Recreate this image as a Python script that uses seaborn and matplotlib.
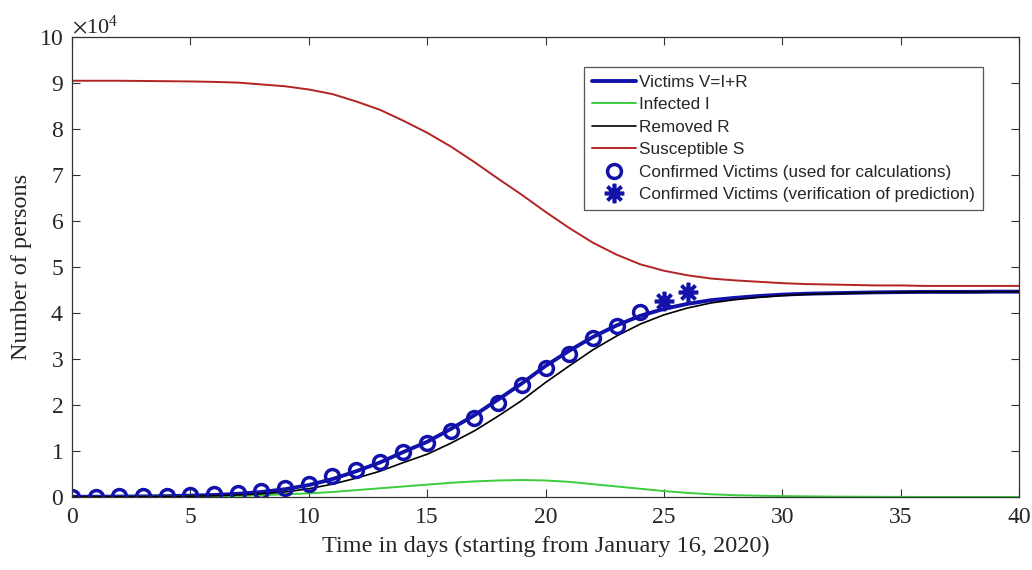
import matplotlib
matplotlib.use("Agg")
import matplotlib.pyplot as plt
import matplotlib.ticker as mticker
import seaborn as sns

# Dias do modelo (0..40)
days = list(range(41))

# Curvas do modelo SIR (número de pessoas)
victims_v = [50, 70, 100, 140, 200, 300, 450, 700, 1100, 1700,
             2600, 3900, 5600, 7500, 9800, 12000, 14800, 17800, 21200, 24700,
             28500, 31800, 34800, 37300, 39400, 40900, 42000, 42800, 43300, 43700,
             44000, 44200, 44300, 44400, 44500, 44550, 44600, 44600, 44600, 44650, 44650]
infected_i = [20, 30, 40, 60, 80, 120, 180, 260, 400, 600,
              800, 1100, 1500, 1900, 2300, 2700, 3100, 3400, 3600, 3700,
              3600, 3300, 2800, 2300, 1800, 1300, 900, 600, 400, 300,
              200, 150, 100, 70, 50, 30, 20, 15, 10, 10, 10]
removed_r = [30, 40, 60, 80, 120, 180, 270, 440, 700, 1100,
             1800, 2800, 4100, 5600, 7500, 9300, 11700, 14400, 17600, 21000,
             24900, 28500, 32000, 35000, 37600, 39600, 41100, 42200, 42900, 43400,
             43800, 44050, 44200, 44330, 44450, 44520, 44580, 44585, 44590, 44640, 44640]
susceptible_s = [90500, 90500, 90500, 90450, 90400, 90350, 90250, 90100, 89700, 89300,
                 88600, 87600, 86000, 84200, 81800, 79200, 76200, 72800, 69200, 65700,
                 62000, 58500, 55300, 52700, 50600, 49200, 48200, 47500, 47100, 46800,
                 46500, 46300, 46200, 46100, 46000, 46000, 45900, 45900, 45900, 45900, 45900]

# Casos confirmados (China, a partir de 16/01/2020)
calc_days = list(range(25))
calc_cases = [45, 62, 121, 198, 291, 440, 571, 830, 1287, 1975,
              2744, 4515, 5974, 7711, 9692, 11791, 14380, 17205, 20438, 24324,
              28018, 31161, 34546, 37198, 40171]
verif_days = [25, 26]
verif_cases = [42638, 44653]

sns.set_style("ticks")
plt.rcParams["font.family"] = ["Liberation Serif", "DejaVu Serif"]
plt.rcParams["mathtext.fontset"] = "stix"
plt.rcParams["xtick.direction"] = "in"
plt.rcParams["ytick.direction"] = "in"

fig = plt.figure(figsize=(10.32, 5.70), dpi=100)
ax = fig.add_axes([0.0698, 0.128, 0.9176, 0.807])

blue = "#1212aa"
sns.lineplot(x=days, y=victims_v, ax=ax, color=blue, linewidth=2.8, label="Victims V=I+R")
sns.lineplot(x=days, y=infected_i, ax=ax, color="#3ccc3c", linewidth=1.4, label="Infected I")
sns.lineplot(x=days, y=removed_r, ax=ax, color="black", linewidth=1.2, label="Removed R")
sns.lineplot(x=days, y=susceptible_s, ax=ax, color="#b22424", linewidth=1.4, label="Susceptible S")
sns.lineplot(x=calc_days, y=calc_cases, ax=ax, color=blue, linestyle="", marker="o",
             markersize=10, markerfacecolor="none", markeredgecolor=blue, markeredgewidth=2.5,
             label="Confirmed Victims (used for calculations)")
sns.lineplot(x=verif_days, y=verif_cases, ax=ax, color=blue, linestyle="", marker=(8, 2, 0),
             markersize=14, markeredgecolor=blue, markeredgewidth=2.6,
             label="Confirmed Victims (verification of prediction)")

ax.set_xlim(0, 40)
ax.set_ylim(0, 100000)
ax.xaxis.set_major_locator(mticker.MultipleLocator(5))
ax.yaxis.set_major_locator(mticker.MultipleLocator(10000))
fmt = mticker.ScalarFormatter(useMathText=True)
fmt.set_powerlimits((4, 4))
ax.yaxis.set_major_formatter(fmt)
ax.yaxis.get_offset_text().set_fontsize(16)
ax.tick_params(axis="both", which="both", labelsize=17, top=True, right=True,
               length=6, width=0.8, color="#333333")
ax.tick_params(axis="x", pad=7)
ax.tick_params(axis="y", pad=6)
for s in ax.spines.values():
    s.set_linewidth(0.9)
    s.set_color("#333333")

ax.set_xlabel("Time in days (starting from January 16, 2020)", fontsize=17.5, labelpad=6)
ax.set_ylabel("Number of persons", fontsize=17.5, labelpad=5)

leg = ax.legend(loc="upper right", bbox_to_anchor=(0.962, 0.935), borderaxespad=0,
                fancybox=False, prop={"family": "Liberation Sans", "size": 12.3},
                handlelength=2.6, handletextpad=0.2, labelspacing=0.44, borderpad=0.45,
                framealpha=1)
leg.get_frame().set_edgecolor("#555555")
leg.get_frame().set_linewidth(0.9)

plt.savefig("out.png", dpi=100)
